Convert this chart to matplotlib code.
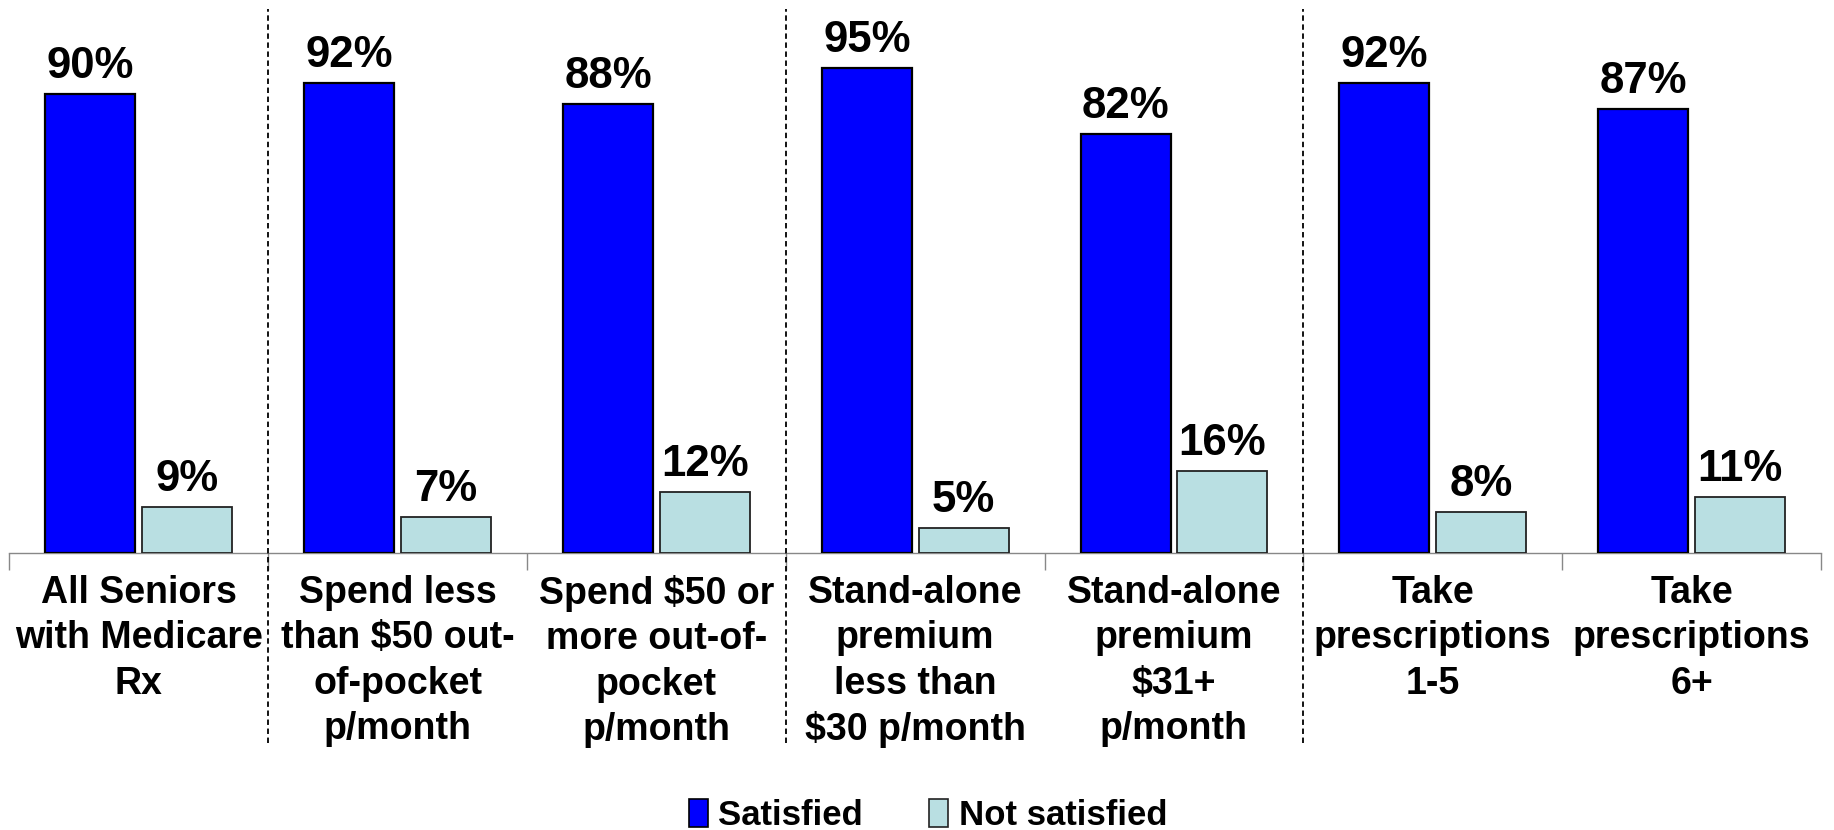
import matplotlib
matplotlib.use("Agg")
import matplotlib.pyplot as plt
from matplotlib.lines import Line2D
from matplotlib.patches import Patch
import matplotlib.transforms as mtransforms
import numpy as np

plt.rcParams['font.family'] = ['Liberation Sans', 'DejaVu Sans']
plt.rcParams['font.weight'] = 'bold'

categories = [
    "All Seniors\nwith Medicare\nRx",
    "Spend less\nthan $50 out-\nof-pocket\np/month",
    "Spend $50 or\nmore out-of-\npocket\np/month",
    "Stand-alone\npremium\nless than\n$30 p/month",
    "Stand-alone\npremium\n$31+\np/month",
    "Take\nprescriptions\n1-5",
    "Take\nprescriptions\n6+",
]
satisfied = [90, 92, 88, 95, 82, 92, 87]
not_satisfied = [9, 7, 12, 5, 16, 8, 11]
series_names = ["Satisfied", "Not satisfied"]
separator_after = [0, 2, 4]  # dashed lines after these category indices

blue = "#0000FF"
light = "#B9DFE2"

fig = plt.figure(figsize=(18.34, 8.30), dpi=100)
ax = fig.add_axes([0.0051, 0.3337, 0.9878, 0.6458])

x = np.arange(len(categories))
w = 0.348
off = 0.187
b1 = ax.bar(x - off, satisfied, w, color=blue, edgecolor="black", linewidth=1.6, zorder=3)
b2 = ax.bar(x + off, not_satisfied, w, color=light, edgecolor="#222222", linewidth=1.3, zorder=3)

for bars, vals in ((b1, satisfied), (b2, not_satisfied)):
    for rect, v in zip(bars, vals):
        ax.annotate(f"{v}%", (rect.get_x() + rect.get_width() / 2, rect.get_height()),
                    xytext=(0, 5), textcoords="offset points", ha="center", va="bottom",
                    fontsize=31.5, fontweight="bold", clip_on=False)

ax.set_xlim(-0.5, len(categories) - 0.5)
ax.set_ylim(0, 105)
for s in ("top", "left", "right"):
    ax.spines[s].set_visible(False)
ax.spines["bottom"].set_color("#888888")
ax.spines["bottom"].set_linewidth(1.0)
ax.set_yticks([])

ax.set_xticks(x)
ax.set_xticklabels(categories, fontsize=27, fontweight="bold", linespacing=1.33)
ax.tick_params(axis="x", which="major", length=0, pad=16)
ax.set_xticks(np.arange(-0.5, len(categories), 1.0), minor=True)
ax.tick_params(axis="x", which="minor", length=12.5, width=1.0, color="#888888", direction="out")

trans = mtransforms.blended_transform_factory(ax.transData, fig.transFigure)
for i in separator_after:
    ln = Line2D([i + 0.5, i + 0.5], [0.105, 0.989], transform=trans, color="black",
                linewidth=1.3, linestyle=(0, (3.0, 2.0)), zorder=5)
    fig.add_artist(ln)

handles = [Patch(facecolor=blue, edgecolor="black", linewidth=1.2),
           Patch(facecolor=light, edgecolor="#222222", linewidth=1.2)]
fig.legend(handles, series_names, loc="lower center", bbox_to_anchor=(0.506, -0.04), ncol=2,
           frameon=False, handlelength=0.55, handleheight=0.9,
           handletextpad=0.3, columnspacing=1.9, prop={"weight": "bold", "size": 25})

fig.savefig("out.png", dpi=100)
